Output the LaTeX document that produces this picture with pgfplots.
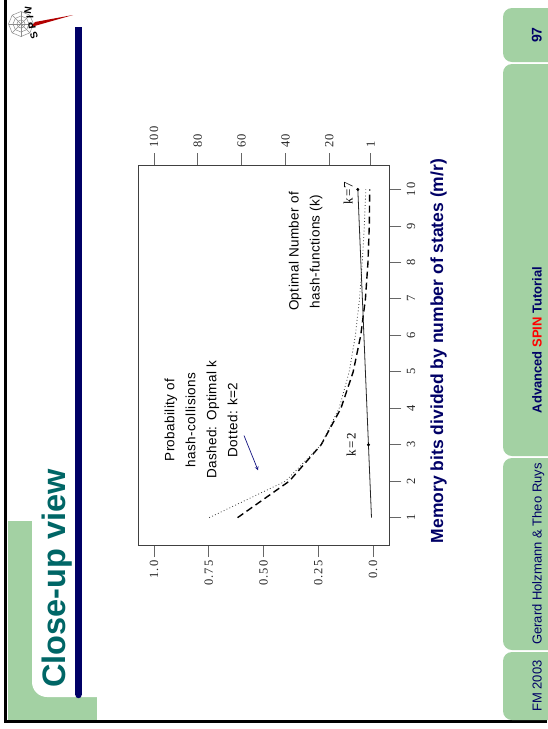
\documentclass[border=0pt]{standalone}
\usepackage{pgfplots}
\pgfplotsset{compat=1.18}
\usepackage{fontspec}
\setmainfont{Liberation Serif}
\newfontfamily\sansf{Liberation Sans}
\newfontfamily\sanssp[LetterSpace=3]{Liberation Sans}
\newfontfamily\serifsp[LetterSpace=9]{Liberation Serif}
\definecolor{tabgreen}{RGB}{163,209,163}
\definecolor{navy}{RGB}{0,0,102}
\definecolor{teal2}{RGB}{0,102,102}
\definecolor{arrowblue}{RGB}{20,20,130}
\newcommand{\tickfont}{\serifsp\fontsize{12.5}{14}\selectfont}

\begin{document}
\begin{tikzpicture}[x=1pt,y=1pt]
\fill[white] (0,0) rectangle (547,-729);
\path[use as bounding box] (0,0) rectangle (547,-729);
\begin{scope}[shift={(0,-729)}, rotate=90, transform shape]
  % ---- slide frame (slide coordinates: (u,-v)) ----
  \fill[tabgreen] (8,-8) rectangle (208,-97);
  \fill[white] (32,-97) -- (32,-47) arc[start angle=180, end angle=90, radius=15] -- (208,-32) -- (208,-97) -- cycle;
  \draw[line width=3] (8,-547) -- (8,-5.5) -- (729,-5.5);
  % navy bar
  \fill[navy] (34,-75.3) rectangle (702,-81.7);
  \fill[navy] (34,-78.5) circle (3.2);
  % title
  \node[anchor=base west, inner sep=0, text=teal2, font=\sansf\bfseries\fontsize{32.5}{36}\selectfont] at (41,-65) {Close-up view};
  % logo
  \begin{scope}[shift={(705,-21)}]
    \foreach \r in {4,8,12.5}{
      \draw[black!45, line width=0.5] (0:\r) \foreach \a in {45,90,...,359}{ -- (\a:\r)} -- cycle;}
    \foreach \a in {0,45,...,359}{\draw[black!45, line width=0.4] (0,0) -- (\a:12.5);}
  \end{scope}
  \fill[red!70!black] (702,-31) -- (707,-35) -- (714,-73) -- cycle;
  \node[rotate=20, font=\sansf\bfseries\fontsize{10}{11}\selectfont, inner sep=0] at (693.5,-34) {S};
  \node[rotate=8, font=\sansf\bfseries\fontsize{10}{11}\selectfont, inner sep=0] at (703.5,-32) {P};
  \node[font=\sansf\bfseries\fontsize{10}{11}\selectfont, inner sep=0] at (711.5,-30) {I};
  \node[rotate=-8, font=\sansf\bfseries\fontsize{10}{11}\selectfont, inner sep=0] at (719,-28) {N};
  % footer tabs
  \fill[tabgreen, rounded corners=9] (9,-560) -- (9,-503) -- (77,-503) -- (77,-560) -- cycle;
  \fill[tabgreen, rounded corners=9] (79,-560) -- (79,-503) -- (271,-503) -- (271,-560) -- cycle;
  \fill[tabgreen, rounded corners=9] (273,-560) -- (273,-503) -- (665,-503) -- (665,-560) -- cycle;
  \fill[tabgreen, rounded corners=9] (667,-560) -- (667,-503) -- (721,-503) -- (721,-560) -- cycle;
  \node[anchor=base, text=navy, font=\sansf\fontsize{13}{14}\selectfont, inner sep=0] at (43,-541.5) {FM 2003};
  \node[anchor=base, text=navy, font=\sansf\fontsize{13}{14}\selectfont, inner sep=0] at (175,-541.5) {Gerard Holzmann \& Theo Ruys};
  \node[anchor=base, text=navy, font=\sansf\bfseries\fontsize{13}{14}\selectfont, inner sep=0] at (389,-541.5) {Advanced \textcolor{red}{SPIN} Tutorial};
  \node[anchor=base, text=navy, font=\sansf\bfseries\fontsize{14}{15}\selectfont, inner sep=0] at (694,-541.5) {97};
  % x axis title
  \node[anchor=base, text=navy, font=\sansf\bfseries\fontsize{17.5}{19}\selectfont, inner sep=0] at (378,-443) {Memory bits divided by number of states (m/r)};

  % ---- the chart ----
  \begin{axis}[
    at={(184pt,-389.3pt)}, anchor=south west,
    scale only axis, width=380pt, height=251pt,
    xmin=0.25, xmax=10.67, ymin=-0.0744, ymax=1.0717,
    xtick={1,2,3,4,5,6,7,8,9,10},
    xticklabels={1,2,3,4,5,6,7,8,9,10},
    ytick={0,0.25,0.5,0.75,1},
    yticklabels={0.0,0.25,0.50,0.75,1.0},
    xtick pos=bottom, ytick pos=left,
    tick align=outside, major tick length=12pt,
    every tick/.style={black!60, line width=0.7pt},
    axis line style={black!75, line width=0.8pt},
    ticklabel style={font=\tickfont, text=black!85},
    xticklabel style={yshift=-2pt},
    clip=false,
  ]
    \addplot[black, line width=1.4pt, dash pattern=on 7pt off 4pt] coordinates {
      (1,0.6185) (2,0.3825) (3,0.2366) (4,0.1463) (5,0.0905)
      (6,0.0560) (7,0.0346) (8,0.0230) (9,0.0170) (10,0.0150)};
    \addplot[black!80, line width=0.8pt, dash pattern=on 0.8pt off 2.4pt] coordinates {
      (1,0.7477) (2,0.3996) (3,0.2368) (4,0.1548) (5,0.1087)
      (6,0.0804) (7,0.0617) (8,0.0489) (9,0.0397) (10,0.0329)};
    \node[align=center, font=\sanssp\fontsize{13.5}{21}\selectfont, inner sep=0] at (axis cs:3.68,0.785)
      {Probability of\\hash-collisions\\Dashed: Optimal k\\Dotted: k=2};
    \node[align=center, font=\sanssp\fontsize{13.5}{21}\selectfont, inner sep=0] at (axis cs:8.3,0.308)
      {Optimal Number of\\hash-functions (k)};
    \draw[arrowblue, line width=0.7pt, -stealth] (axis cs:3.25,0.589) -- (axis cs:2.30,0.525);
    \node[font=\serifsp\fontsize{13}{14}\selectfont, inner sep=0] at (axis cs:3,0.10) {k=2};
    \node[font=\serifsp\fontsize{13}{14}\selectfont, inner sep=0] at (axis cs:9.9,0.114) {k=7};
  \end{axis}
  \begin{axis}[
    at={(184pt,-389.3pt)}, anchor=south west,
    scale only axis, width=380pt, height=251pt,
    xmin=0.25, xmax=10.67, ymin=-7.44, ymax=107.17,
    axis x line=none, axis y line*=right,
    ytick={1,20,40,60,80,100},
    yticklabels={1,20,40,60,80,100},
    tick align=outside, major tick length=12pt,
    every tick/.style={black!60, line width=0.7pt},
    axis line style={black!75, line width=0.8pt},
    ticklabel style={font=\tickfont, text=black!85},
    yticklabel style={anchor=west, xshift=2pt},
  ]
    \addplot[black!85, line width=0.8pt] coordinates {
      (1,0.69) (2,1.39) (3,2.08) (4,2.77) (5,3.47)
      (6,4.16) (7,4.85) (8,5.55) (9,6.24) (10,6.93)};
    \addplot[only marks, mark=*, mark size=1.3pt, black] coordinates {(3,2.08) (10,6.93)};
  \end{axis}
\end{scope}
\end{tikzpicture}
\end{document}
